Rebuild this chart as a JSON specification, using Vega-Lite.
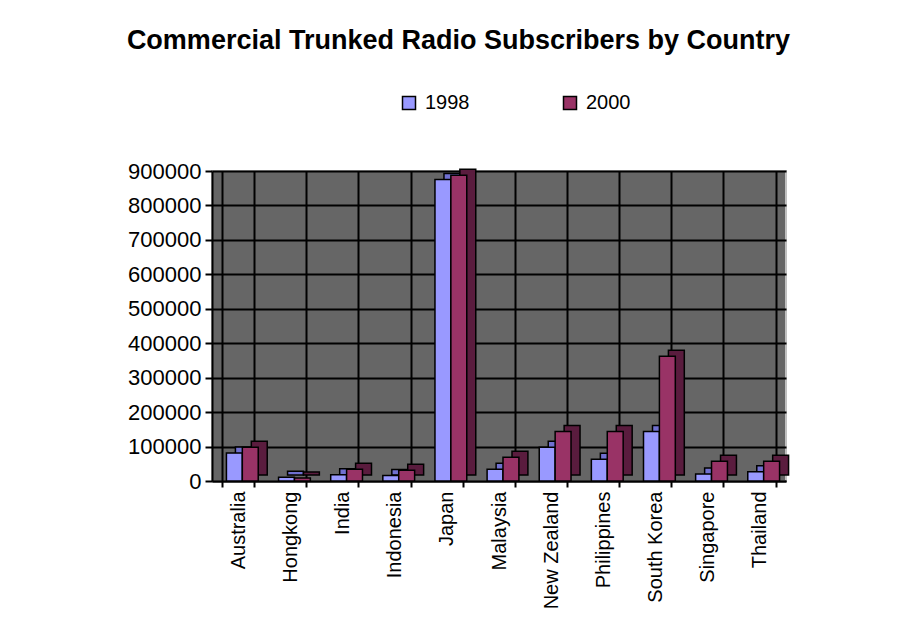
{
  "$schema": "https://vega.github.io/schema/vega-lite/v6.json",
  "width": 574,
  "height": 310,
  "autosize": {"type": "none"},
  "padding": {"left": 212, "top": 171, "right": 111, "bottom": 152},
  "background": "white",
  "title": {
    "text": "Commercial Trunked Radio Subscribers by Country",
    "font": "Liberation Sans",
    "fontSize": 27,
    "fontWeight": "bold",
    "color": "black",
    "anchor": "middle",
    "frame": "bounds",
    "offset": 38
  },
  "data": {
    "values": [
      {"country": "Australia", "year": "1998", "value": 81000},
      {"country": "Australia", "year": "2000", "value": 98000},
      {"country": "Hongkong", "year": "1998", "value": 11000},
      {"country": "Hongkong", "year": "2000", "value": 9000},
      {"country": "India", "year": "1998", "value": 18000},
      {"country": "India", "year": "2000", "value": 34000},
      {"country": "Indonesia", "year": "1998", "value": 16000},
      {"country": "Indonesia", "year": "2000", "value": 31000},
      {"country": "Japan", "year": "1998", "value": 875000},
      {"country": "Japan", "year": "2000", "value": 888000},
      {"country": "Malaysia", "year": "1998", "value": 34000},
      {"country": "Malaysia", "year": "2000", "value": 69000},
      {"country": "New Zealand", "year": "1998", "value": 98000},
      {"country": "New Zealand", "year": "2000", "value": 144000},
      {"country": "Philippines", "year": "1998", "value": 63000},
      {"country": "Philippines", "year": "2000", "value": 144000},
      {"country": "South Korea", "year": "1998", "value": 144000},
      {"country": "South Korea", "year": "2000", "value": 362000},
      {"country": "Singapore", "year": "1998", "value": 20000},
      {"country": "Singapore", "year": "2000", "value": 57000},
      {"country": "Thailand", "year": "1998", "value": 27000},
      {"country": "Thailand", "year": "2000", "value": 57000}
    ]
  },
  "encoding": {
    "x": {
      "field": "country",
      "type": "nominal",
      "sort": null,
      "scale": {"paddingInner": 0.39},
      "axis": {
        "title": null,
        "labelAngle": 270,
        "labelAlign": "right",
        "labelBaseline": "middle",
        "labelFont": "Liberation Sans",
        "labelFontSize": 20,
        "labelColor": "black",
        "labelPadding": 4,
        "tickBand": "extent",
        "grid": true,
        "gridColor": "black",
        "gridWidth": 2,
        "gridOpacity": 1,
        "domainColor": "black",
        "domainWidth": 2,
        "tickColor": "black",
        "tickWidth": 2,
        "tickSize": 6
      }
    },
    "y": {
      "field": "value",
      "type": "quantitative",
      "scale": {"domain": [0, 900000], "nice": false},
      "axis": {
        "title": null,
        "values": [0, 100000, 200000, 300000, 400000, 500000, 600000, 700000, 800000, 900000],
        "format": "d",
        "labelFont": "Liberation Sans",
        "labelFontSize": 22,
        "labelColor": "black",
        "labelPadding": 4,
        "domainColor": "black",
        "domainWidth": 2,
        "tickColor": "black",
        "tickWidth": 2,
        "tickSize": 7,
        "grid": true,
        "gridColor": "black",
        "gridWidth": 2,
        "gridOpacity": 1
      }
    }
  },
  "layer": [
    {
      "mark": {"type": "bar", "yOffset": -6, "stroke": "black", "strokeWidth": 1.5},
      "encoding": {
        "xOffset": {"field": "year", "type": "nominal", "scale": {"range": [13, 44.8]}},
        "color": {
          "field": "year",
          "type": "nominal",
          "scale": {"domain": ["1998", "2000"], "range": ["#7070d0", "#5a1c3e"]},
          "legend": null
        }
      }
    },
    {
      "mark": {"type": "bar", "stroke": "black", "strokeWidth": 1.5},
      "encoding": {
        "xOffset": {"field": "year", "type": "nominal", "scale": {"range": [4, 35.8]}},
        "color": {
          "field": "year",
          "type": "nominal",
          "scale": {"domain": ["1998", "2000"], "range": ["#9999FF", "#993366"]},
          "legend": {
            "title": null,
            "orient": "none",
            "legendX": 187,
            "legendY": -78,
            "direction": "horizontal",
            "symbolType": "square",
            "symbolSize": 169,
            "symbolStrokeColor": "black",
            "symbolStrokeWidth": 1.5,
            "symbolOpacity": 1,
            "labelFont": "Liberation Sans",
            "labelFontSize": 20,
            "labelColor": "black",
            "labelOffset": 6,
            "columnPadding": 90
          }
        }
      }
    }
  ],
  "resolve": {"scale": {"color": "independent", "xOffset": "independent"}},
  "config": {
    "view": {"fill": "#666666", "stroke": "#c0c0c0", "strokeWidth": 2}
  }
}
